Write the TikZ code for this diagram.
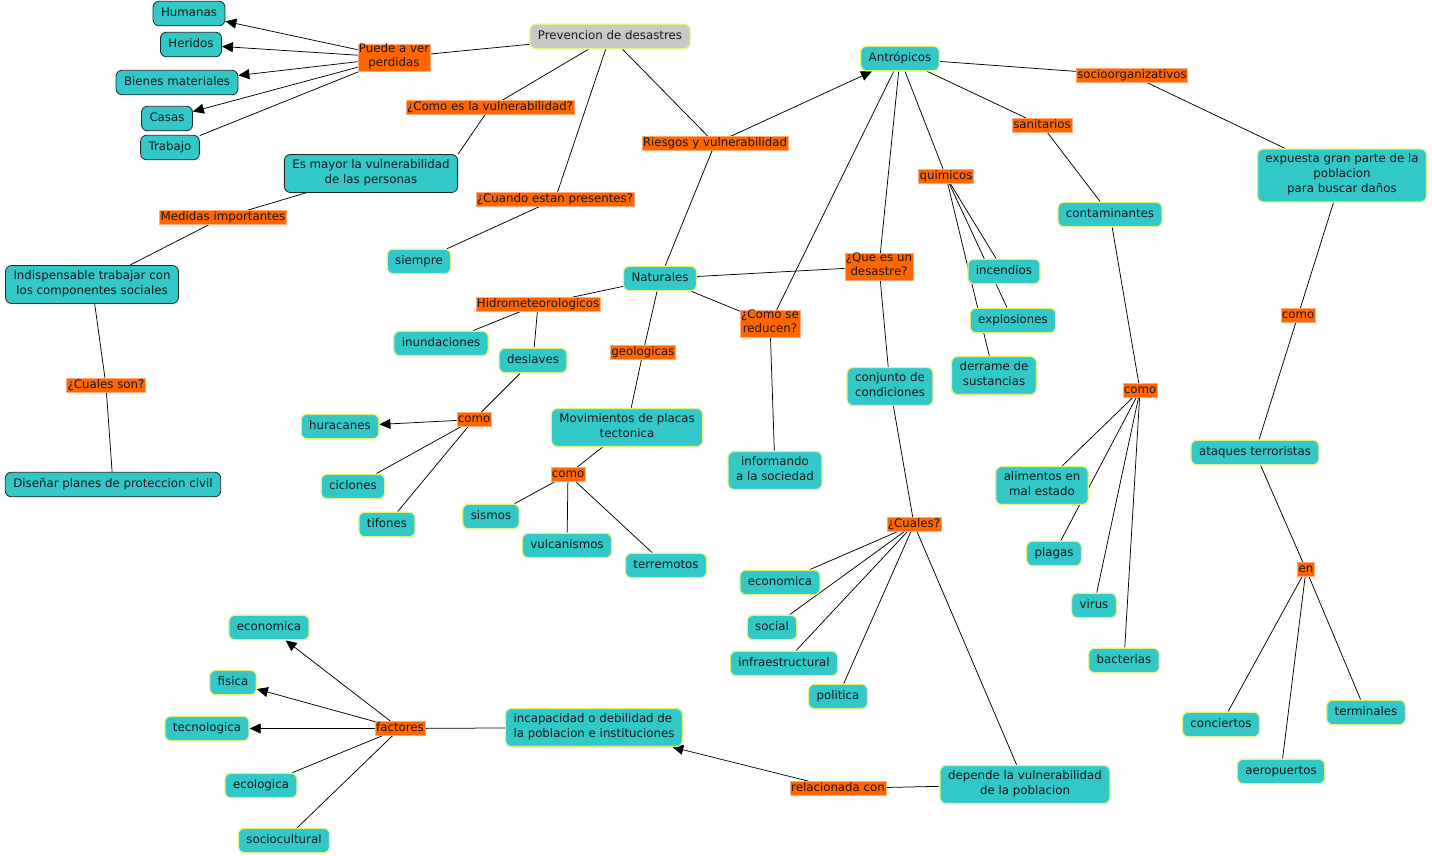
\documentclass[tikz,border=0pt]{standalone}
\usepackage{fontspec}
\setmainfont{DejaVu Sans}
\usetikzlibrary{arrows.meta}
\pgfdeclarelayer{bg}
\pgfdeclarelayer{paper}
\pgfsetlayers{paper,bg,main}
\definecolor{tealc}{RGB}{51,200,200}
\definecolor{ylw}{RGB}{228,242,130}
\definecolor{org}{RGB}{255,102,0}
\definecolor{orgb}{RGB}{255,170,125}
\definecolor{gry}{RGB}{200,200,200}
\newcommand\mapfont{\fontsize{11.8}{15}\selectfont}
\newcommand\lblfont{\fontsize{11.8}{14}\selectfont}
\tikzset{
 concept/.style={draw=ylw, line width=1.2pt, fill=tealc, rounded corners=6pt, inner xsep=8pt, inner ysep=4.75pt, align=center, font=\mapfont, text=black!90, execute at begin node=\strut, execute at end node=\strut},
 dark/.style={concept, draw=black!85, line width=0.8pt},
 lbl/.style={fill=org, draw=orgb, line width=0.5pt, inner xsep=1pt, inner ysep=0pt, align=center, font=\lblfont, text=black!90, execute at begin node=\strut, execute at end node=\strut},
 link/.style={line width=0.75pt, black},
 arr/.style={link, -{Triangle[length=11pt,width=10pt]}},
}
\begin{document}
\begin{tikzpicture}[x=1pt,y=-1pt]
\begin{pgfonlayer}{paper}
\fill[white] (0,0) rectangle (1432,855);
\end{pgfonlayer}
\useasboundingbox (0,0) rectangle (1432,855);
% dark-bordered concepts
\node[dark] (hum) at (189,13.5) {Humanas};
\node[dark] (her) at (191,44.5) {Heridos};
\node[dark] (bie) at (177,82.5) {Bienes materiales};
\node[dark] (cas) at (167,118.5) {Casas};
\node[dark] (tra) at (170,147.5) {Trabajo};
\node[dark] (esm) at (371,173.5) {Es mayor la vulnerabilidad\\de las personas};
\node[dark] (ind) at (92,284.5) {Indispensable trabajar con\\los componentes sociales};
\node[dark] (dis) at (113,484.5) {Diseñar planes de proteccion civil};
% concepts
\node[concept, fill=gry] (prev) at (610,36.5) {Prevencion de desastres};
\node[concept] (antr) at (900,58.5) {Antrópicos};
\node[concept] (expu) at (1342,175.5) {expuesta gran parte de la\\poblacion\\para buscar daños};
\node[concept] (cont) at (1110,214.5) {contaminantes};
\node[concept] (siem) at (419,261.5) {siempre};
\node[concept] (natu) at (660,278.5) {Naturales};
\node[concept] (ince) at (1004,271.5) {incendios};
\node[concept] (expl) at (1013,320.5) {explosiones};
\node[concept] (derr) at (994,375.5) {derrame de\\sustancias};
\node[concept] (inun) at (441,343.5) {inundaciones};
\node[concept] (desl) at (533,360.5) {deslaves};
\node[concept] (conj) at (890,386.5) {conjunto de\\condiciones};
\node[concept] (movi) at (627,427.5) {Movimientos de placas\\tectonica};
\node[concept] (hura) at (340,426.5) {huracanes};
\node[concept] (info) at (775,470.5) {informando\\a la sociedad};
\node[concept] (alim) at (1042,485.5) {alimentos en\\mal estado};
\node[concept] (ataq) at (1255,452.5) {ataques terroristas};
\node[concept] (cicl) at (353,486.5) {ciclones};
\node[concept] (tifo) at (387,524.5) {tifones};
\node[concept] (sism) at (491,516.5) {sismos};
\node[concept] (vulc) at (567,545.5) {vulcanismos};
\node[concept] (terr) at (666,565.5) {terremotos};
\node[concept] (plag) at (1054,553.5) {plagas};
\node[concept] (ecom) at (780,582.5) {economica};
\node[concept] (soci) at (772,627.5) {social};
\node[concept] (infr) at (784,663.5) {infraestructural};
\node[concept] (poli) at (838,696.5) {politica};
\node[concept] (viru) at (1094,605.5) {virus};
\node[concept] (bact) at (1124,660.5) {bacterias};
\node[concept] (ecol) at (269,627.5) {economica};
\node[concept] (fisi) at (233,682.5) {fisica};
\node[concept] (tecn) at (207,728.5) {tecnologica};
\node[concept] (eclg) at (261,785.5) {ecologica};
\node[concept] (socu) at (284,840.5) {sociocultural};
\node[concept, align=left] (inca) at (594,727.5) {incapacidad o debilidad de\\la poblacion e instituciones};
\node[concept] (depe) at (1025,784.5) {depende la vulnerabilidad\\de la poblacion};
\node[concept] (conc) at (1221,724.5) {conciertos};
\node[concept] (term) at (1366,712.5) {terminales};
\node[concept] (aero) at (1281,771.5) {aeropuertos};
% linking phrases
\node[lbl] (pue) at (394,57.5) {Puede a ver\\perdidas};
\node[lbl] (cvu) at (490,107.5) {¿Como es la vulnerabilidad?};
\node[lbl] (rie) at (715,143.5) {Riesgos y vulnerabilidad};
\node[lbl] (soc) at (1132,75.5) {socioorganizativos};
\node[lbl] (san) at (1042,125.5) {sanitarios};
\node[lbl] (qui) at (946,176.5) {quimicos};
\node[lbl] (med) at (223,217.5) {Medidas importantes};
\node[lbl] (cua) at (555,199.5) {¿Cuando estan presentes?};
\node[lbl] (que) at (879,266.5) {¿Que es un\\desastre?};
\node[lbl] (hid) at (538,304.5) {Hidrometeorologicos};
\node[lbl] (cre) at (770,323.5) {¿Como se\\reducen?};
\node[lbl] (geo) at (643,352.5) {geologicas};
\node[lbl] (coa) at (474,419.5) {como};
\node[lbl] (cob) at (568,474.5) {como};
\node[lbl] (coc) at (1140,390.5) {como};
\node[lbl] (cod) at (1298,315.5) {como};
\node[lbl] (cson) at (106,385.5) {¿Cuales son?};
\node[lbl] (cual) at (914,524.5) {¿Cuales?};
\node[lbl] (en) at (1306,569.5) {en};
\node[lbl] (fac) at (400,728.5) {factores};
\node[lbl] (rel) at (838,788.5) {relacionada con};
\begin{pgfonlayer}{bg}
\draw[link] (prev) -- (pue);
\draw[arr] (pue) -- (hum);
\draw[arr] (pue) -- (her);
\draw[arr] (pue) -- (bie);
\draw[arr] (pue) -- (cas);
\draw[link] (pue) -- (tra);
\draw[link] (prev) -- (cvu);
\draw[link] (cvu) -- (esm.north east);
\draw[link] (prev) -- (cua);
\draw[link] (cua) -- (siem);
\draw[link] (prev) -- (rie);
\draw[arr] (rie) -- (antr);
\draw[link] (rie) -- (natu);
\draw[link] (esm) -- (med);
\draw[link] (med) -- (ind);
\draw[link] (ind) -- (cson);
\draw[link] (cson) -- (dis);
\draw[link] (antr) -- (soc);
\draw[link] (soc) -- (expu);
\draw[link] (antr) -- (san);
\draw[link] (san) -- (cont);
\draw[link] (antr) -- (qui);
\draw[link] (qui) -- (ince);
\draw[link] (qui) -- (expl);
\draw[link] (qui) -- (derr);
\draw[link] (antr) -- (que);
\draw[link] (antr) -- (cre);
\draw[link] (natu) -- (que);
\draw[link] (que) -- (conj);
\draw[link] (conj) -- (cual);
\draw[link] (cual) -- (ecom);
\draw[link] (cual) -- (soci);
\draw[link] (cual) -- (infr);
\draw[link] (cual) -- (poli);
\draw[link] (cual) -- (depe);
\draw[link] (depe) -- (rel);
\draw[arr] (rel) -- (inca);
\draw[link] (inca) -- (fac);
\draw[arr] (fac) -- (ecol);
\draw[arr] (fac) -- (fisi);
\draw[arr] (fac) -- (tecn);
\draw[link] (fac) -- (eclg);
\draw[link] (fac) -- (socu);
\draw[link] (natu) -- (hid);
\draw[link] (hid) -- (inun);
\draw[link] (hid) -- (desl);
\draw[link] (desl) -- (coa);
\draw[arr] (coa) -- (hura);
\draw[link] (coa) -- (cicl);
\draw[link] (coa) -- (tifo);
\draw[link] (natu) -- (geo);
\draw[link] (geo) -- (movi);
\draw[link] (movi) -- (cob);
\draw[link] (cob) -- (sism);
\draw[link] (cob) -- (vulc);
\draw[link] (cob) -- (terr);
\draw[link] (natu) -- (cre);
\draw[link] (cre) -- (info);
\draw[link] (cont) -- (coc);
\draw[link] (coc) -- (alim);
\draw[link] (coc) -- (plag);
\draw[link] (coc) -- (viru);
\draw[link] (coc) -- (bact);
\draw[link] (expu) -- (cod);
\draw[link] (cod) -- (ataq);
\draw[link] (ataq) -- (en);
\draw[link] (en) -- (conc);
\draw[link] (en) -- (aero);
\draw[link] (en) -- (term);
\end{pgfonlayer}
\end{tikzpicture}
\end{document}
